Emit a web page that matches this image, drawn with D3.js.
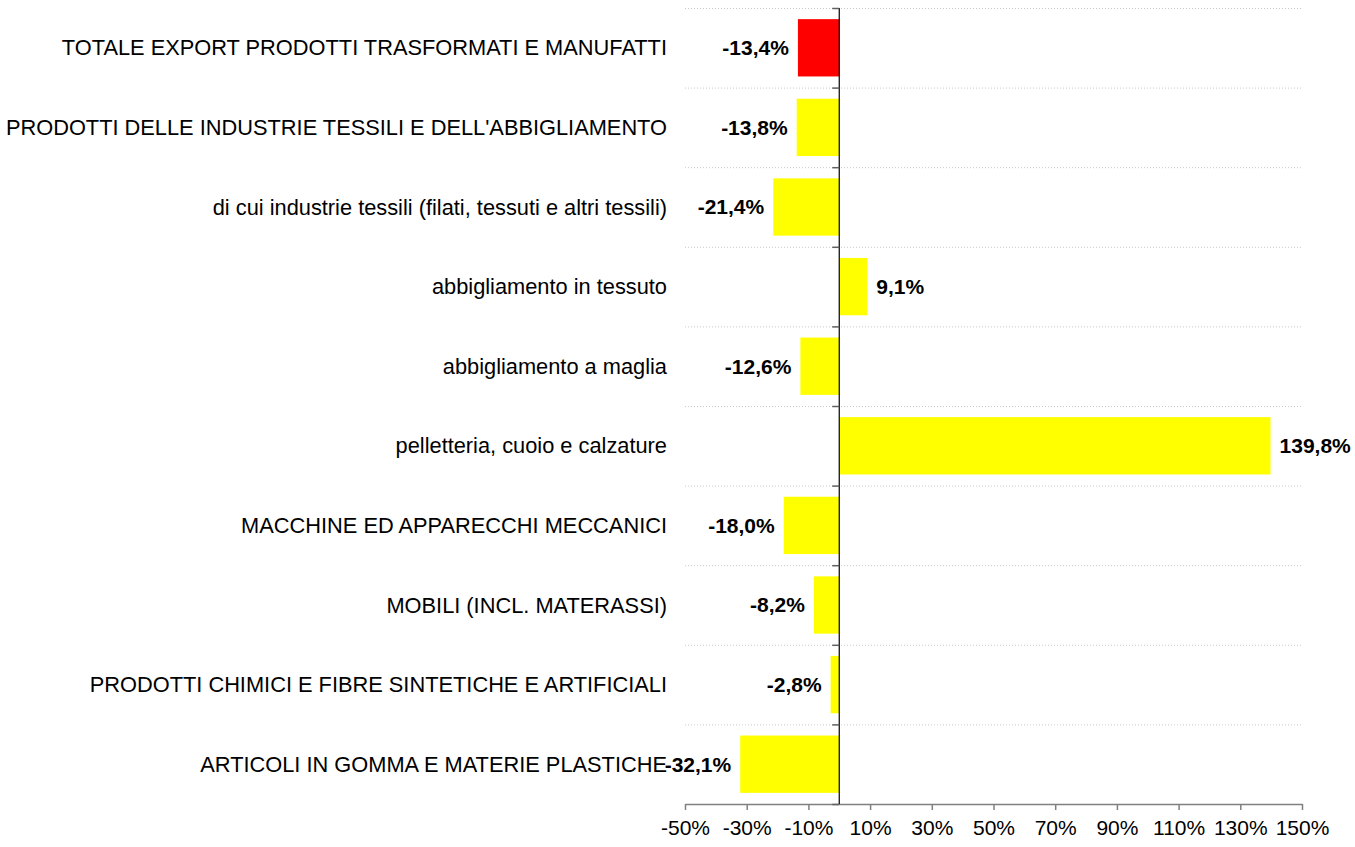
<!DOCTYPE html>
<html lang="it">
<head>
<meta charset="UTF-8">
<title>Export</title>
<script src="https://d3js.org/d3.v7.min.js"></script>
<style>
  body { margin: 0; padding: 0; background: #fff; }
  svg { display: block; font-family: Arial, "Liberation Sans", sans-serif; }
  .grid line { stroke: #c8c8c8; stroke-dasharray: 1,2; }
  .cat { font-size: 21.8px; fill: #000; }
  .val { font-size: 21px; font-weight: bold; fill: #000; }
  .tick text { font-size: 21px; fill: #000; }
</style>
</head>
<body>
<div id="chart"></div>
<script>
const categories = [
  "TOTALE EXPORT PRODOTTI TRASFORMATI E MANUFATTI",
  "PRODOTTI DELLE INDUSTRIE TESSILI E DELL'ABBIGLIAMENTO",
  "di cui industrie tessili (filati, tessuti e altri tessili)",
  "abbigliamento in tessuto",
  "abbigliamento a maglia",
  "pelletteria, cuoio e calzature",
  "MACCHINE ED APPARECCHI MECCANICI",
  "MOBILI (INCL. MATERASSI)",
  "PRODOTTI CHIMICI E FIBRE SINTETICHE E ARTIFICIALI",
  "ARTICOLI IN GOMMA E MATERIE PLASTICHE"
];
const values = [-13.4, -13.8, -21.4, 9.1, -12.6, 139.8, -18.0, -8.2, -2.8, -32.1];
const barColors = ["#ff0000", "#ffff00", "#ffff00", "#ffff00", "#ffff00", "#ffff00", "#ffff00", "#ffff00", "#ffff00", "#ffff00"];
const tickValues = [-50, -30, -10, 10, 30, 50, 70, 90, 110, 130, 150];

const width = 1355, height = 847;
const margin = { top: 8, right: 53, bottom: 43, left: 685 };

const svg = d3.select("#chart").append("svg")
  .attr("width", width).attr("height", height);

const x = d3.scaleLinear().domain([-50, 150]).range([margin.left, width - margin.right]);
const y = d3.scaleBand().domain(categories).range([margin.top, height - margin.bottom]).paddingInner(0.28).paddingOuter(0.14);

// Italian style: comma decimal, plain hyphen
const fmt = v => d3.format(".1f")(v).replace("\u2212", "-").replace(".", ",") + "%";

// dotted gridlines at category boundaries
const bounds = d3.range(categories.length + 1).map(i => margin.top + i * y.step());
svg.append("g").attr("class", "grid")
  .selectAll("line").data(bounds.slice(0, -1)).join("line")
  .attr("x1", x(-50)).attr("x2", x(150))
  .attr("y1", d => d + 0.5).attr("y2", d => d + 0.5);

// bars
svg.append("g").selectAll("rect").data(categories).join("rect")
  .attr("x", (d, i) => x(Math.min(0, values[i])))
  .attr("y", d => y(d))
  .attr("width", (d, i) => Math.abs(x(values[i]) - x(0)))
  .attr("height", y.bandwidth())
  .attr("fill", (d, i) => barColors[i]);

// bottom axis
const xAxis = svg.append("g")
  .attr("transform", `translate(0,${height - margin.bottom})`)
  .call(d3.axisBottom(x).tickValues(tickValues).tickSize(6).tickSizeOuter(0).tickPadding(10)
    .tickFormat(d => d + "%"));
xAxis.attr("font-family", null).attr("font-size", null);
xAxis.select(".domain").attr("stroke", "#808080").attr("stroke-width", 1.5);
xAxis.selectAll(".tick line").attr("stroke", "#808080").attr("stroke-width", 1.5);

// vertical zero axis with small ticks
const zeroAxis = svg.append("g");
zeroAxis.append("line")
  .attr("x1", x(0)).attr("x2", x(0))
  .attr("y1", margin.top).attr("y2", height - margin.bottom)
  .attr("stroke", "#000").attr("stroke-width", 1.2);
zeroAxis.selectAll(".zt").data(bounds).join("line")
  .attr("x1", x(0) - 7).attr("x2", x(0))
  .attr("y1", d => d + 0.5).attr("y2", d => d + 0.5)
  .attr("stroke", "#606060").attr("stroke-width", 1.5);

// category labels
svg.append("g").selectAll("text").data(categories).join("text")
  .attr("class", "cat")
  .attr("x", 667)
  .attr("y", d => y(d) + y.bandwidth() / 2)
  .attr("dy", "0.35em")
  .attr("text-anchor", "end")
  .text(d => d);

// value labels
svg.append("g").selectAll("text").data(categories).join("text")
  .attr("class", "val")
  .attr("x", (d, i) => values[i] < 0 ? x(values[i]) - 9 : x(values[i]) + 9)
  .attr("y", d => y(d) + y.bandwidth() / 2)
  .attr("dy", "0.35em")
  .attr("text-anchor", (d, i) => values[i] < 0 ? "end" : "start")
  .text((d, i) => fmt(values[i]));
</script>
</body>
</html>
